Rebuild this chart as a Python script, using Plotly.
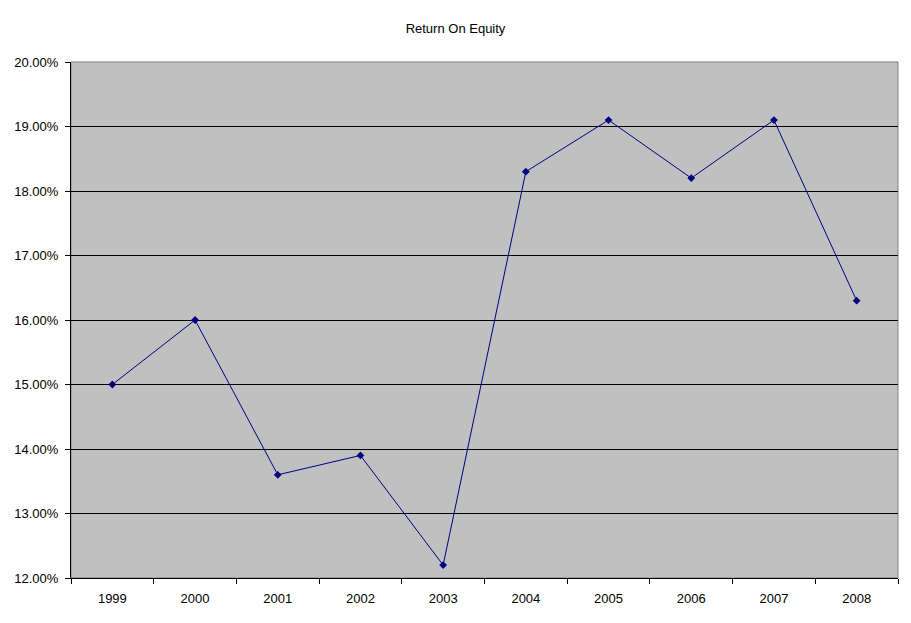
import plotly.graph_objects as go

years = ["1999", "2000", "2001", "2002", "2003", "2004", "2005", "2006", "2007", "2008"]
roe = [15.0, 16.0, 13.6, 13.9, 12.2, 18.3, 19.1, 18.2, 19.1, 16.3]
y_ticks = [12, 13, 14, 15, 16, 17, 18, 19, 20]
y_tick_labels = [f"{v:.2f}%" for v in y_ticks]

W, H = 895, 607

fig = go.Figure()
fig.add_trace(go.Scatter(
    x=years, y=roe, mode="lines+markers",
    line=dict(color="#000080", width=1),
    marker=dict(symbol="diamond", size=6, color="#000080"),
    showlegend=False,
))

fig.update_layout(
    width=W, height=H,
    margin=dict(l=63, r=5, t=54, b=37),
    paper_bgcolor="white",
    plot_bgcolor="#c0c0c0",
    font=dict(family="Liberation Sans, Arial, sans-serif", size=13, color="black"),
    title=dict(text="Return On Equity", x=0.5, xanchor="center", y=1 - 20 / H, yanchor="middle",
               font=dict(size=13, color="black")),
    shapes=[dict(type="rect", xref="paper", yref="paper", x0=0, x1=1, y0=0, y1=1,
                 line=dict(color="#808080", width=1), layer="below")],
)
fig.update_xaxes(
    type="category", range=[-0.5, 9.5],
    showgrid=False, showline=True, linecolor="black", linewidth=1,
    ticks="outside", tickson="boundaries", ticklen=5, tickcolor="black",
    ticklabelstandoff=8, zeroline=False,
)
fig.update_yaxes(
    range=[12, 20], tickvals=y_ticks, ticktext=y_tick_labels,
    showgrid=True, gridcolor="black", gridwidth=1,
    showline=True, linecolor="black", linewidth=1,
    ticks="outside", ticklen=5, tickcolor="black", zeroline=False,
    ticklabelstandoff=4,
)

fig.write_html("out.html")
